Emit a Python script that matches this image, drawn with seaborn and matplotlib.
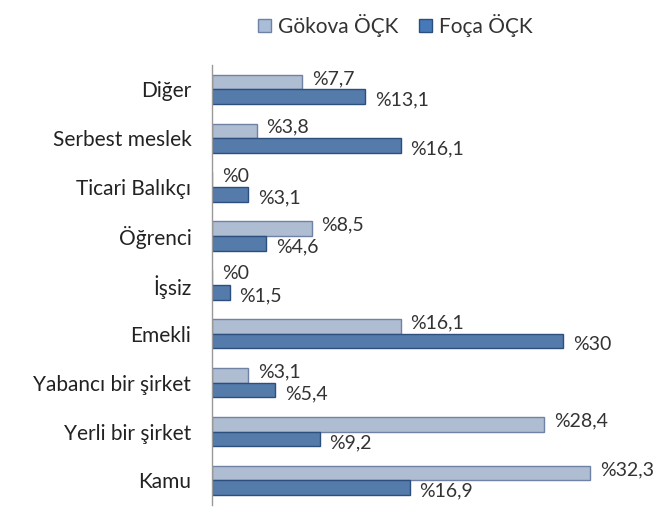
import pandas as pd
import matplotlib.pyplot as plt
import matplotlib.patches as mpatches
import seaborn as sns

# Categories (top to bottom) and the two series
categories = ["Diğer", "Serbest meslek", "Ticari Balıkçı", "Öğrenci", "İşsiz",
              "Emekli", "Yabancı bir şirket", "Yerli bir şirket", "Kamu"]
gokova = [7.7, 3.8, 0, 8.5, 0, 16.1, 3.1, 28.4, 32.3]
foca = [13.1, 16.1, 3.1, 4.6, 1.5, 30, 5.4, 9.2, 16.9]
series_names = ["Gökova ÖÇK", "Foça ÖÇK"]

COLORS = {"Gökova ÖÇK": "#a9bcd8", "Foça ÖÇK": "#4679b8"}
EDGES = {"Gökova ÖÇK": "#6f82a3", "Foça ÖÇK": "#2d4f7e"}

df = pd.DataFrame({
    "Kategori": categories * 2,
    "Seri": [series_names[0]] * len(categories) + [series_names[1]] * len(categories),
    "Deger": gokova + foca,
})


def fmt(v):
    return "%" + f"{v:g}".replace(".", ",")


sns.set_theme(style="white")
plt.rcParams["font.family"] = ["Lato", "DejaVu Sans"]

fig = plt.figure(figsize=(6.65, 5.11), dpi=100)
ax = fig.add_axes([0.319, 0.012, 0.681, 0.861])

sns.barplot(data=df, y="Kategori", x="Deger", hue="Seri", orient="h",
            order=categories, hue_order=series_names,
            palette=COLORS, width=0.6, ax=ax, legend=False)

# Gökova labels nudged up, Foça labels nudged down (as in the original)
shifts = {"Gökova ÖÇK": 2.6, "Foça ÖÇK": -2.6}
for cont, name in zip(ax.containers, series_names):
    for p in cont:
        p.set_edgecolor(EDGES[name])
        p.set_linewidth(1.0)
    texts = ax.bar_label(cont, labels=[fmt(v) for v in cont.datavalues],
                         padding=7, fontsize=14, color="#333333")
    for t in texts:
        t.xyann = (7, shifts[name])

ax.set_xlim(0, 38.7)
ax.set_ylim(8.5, -0.5)
ax.set_xlabel("")
ax.set_ylabel("")
ax.set_xticks([])
ax.tick_params(axis="y", length=0, labelsize=15, pad=15, labelcolor="#222222")
for s in ["top", "right", "bottom"]:
    ax.spines[s].set_visible(False)
ax.spines["left"].set_color("#999999")
ax.spines["left"].set_linewidth(1.0)

handles = [mpatches.Patch(facecolor=COLORS[n], edgecolor=EDGES[n], label=n)
           for n in series_names]
fig.legend(handles=handles, loc="upper center", bbox_to_anchor=(0.595, 1.01),
           ncol=2, frameon=False, fontsize=15, handlelength=0.6,
           handleheight=0.6, handletextpad=0.35, columnspacing=1.0,
           labelcolor="#333333")

plt.savefig("out.png", dpi=100)
plt.close()
